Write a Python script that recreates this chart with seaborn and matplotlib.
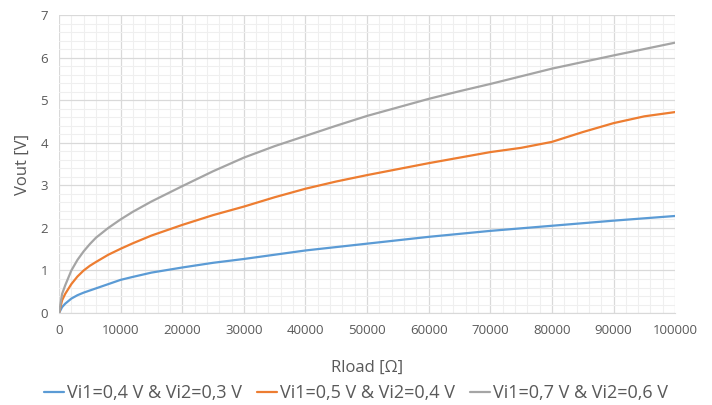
import numpy as np
import pandas as pd
import matplotlib
matplotlib.use("Agg")
import matplotlib.pyplot as plt
import seaborn as sns
from matplotlib.ticker import MultipleLocator
from matplotlib.lines import Line2D

x_blue = [0, 500, 1000, 2000, 3000, 4000, 5000, 6000, 8000, 10000, 12000, 15000, 20000,
          25000, 30000, 35000, 40000, 45000, 50000, 55000, 60000, 65000, 70000,
          80000, 90000, 100000]
y_blue = [0, 0.14, 0.22, 0.34, 0.42, 0.48, 0.53, 0.58, 0.68, 0.78, 0.85, 0.95, 1.07,
          1.18, 1.27, 1.37, 1.47, 1.55, 1.63, 1.71, 1.79, 1.86, 1.93,
          2.05, 2.17, 2.28]

x_orange = [0, 500, 1000, 2000, 3000, 4000, 5000, 6000, 8000, 10000, 12000, 15000, 20000,
            25000, 30000, 35000, 40000, 45000, 50000, 55000, 60000, 65000, 70000,
            75000, 80000, 85000, 90000, 95000, 100000]
y_orange = [0, 0.30, 0.45, 0.68, 0.86, 1.00, 1.11, 1.20, 1.37, 1.51, 1.64, 1.82, 2.07,
            2.30, 2.50, 2.72, 2.92, 3.09, 3.24, 3.38, 3.52, 3.65, 3.78,
            3.88, 4.02, 4.25, 4.46, 4.62, 4.72]

x_gray = [0, 500, 1000, 2000, 3000, 4000, 5000, 6000, 8000, 10000, 12000, 15000, 20000,
          25000, 30000, 35000, 40000, 45000, 50000, 55000, 60000, 65000, 70000,
          80000, 90000, 100000]
y_gray = [0, 0.45, 0.65, 1.00, 1.25, 1.45, 1.62, 1.77, 2.00, 2.20, 2.38, 2.62, 2.98,
          3.33, 3.65, 3.92, 4.16, 4.40, 4.63, 4.83, 5.03, 5.21, 5.38,
          5.74, 6.05, 6.35]

labels = ["Vi1=0,4 V & Vi2=0,3 V", "Vi1=0,5 V & Vi2=0,4 V", "Vi1=0,7 V & Vi2=0,6 V"]
colors = ["#5B9BD5", "#ED7D31", "#A5A5A5"]

frames = []
for xs, ys, lab in [(x_blue, y_blue, labels[0]), (x_orange, y_orange, labels[1]),
                    (x_gray, y_gray, labels[2])]:
    frames.append(pd.DataFrame({"Rload": xs, "Vout": ys, "series": lab}))
df = pd.concat(frames, ignore_index=True)

sns.set_style("white")
plt.rcParams["font.family"] = ["Open Sans", "DejaVu Sans"]

fig = plt.figure(figsize=(7.12, 4.05), dpi=100)
ax = fig.add_axes([0.0829, 0.227, 0.8653, 0.736])

sns.lineplot(data=df, x="Rload", y="Vout", hue="series", hue_order=labels,
             palette=colors, linewidth=1.6, ax=ax, legend=False, sort=True)

ax.set_xlim(0, 100000)
ax.set_ylim(0, 7)
ax.xaxis.set_major_locator(MultipleLocator(10000))
ax.xaxis.set_minor_locator(MultipleLocator(2000))
ax.yaxis.set_major_locator(MultipleLocator(1))
ax.yaxis.set_minor_locator(MultipleLocator(0.2))
ax.grid(which="major", color="#D9D9D9", linewidth=0.9)
ax.grid(which="minor", color="#EFEFEF", linewidth=0.8)
ax.set_axisbelow(True)
for s in ["top", "right", "left"]:
    ax.spines[s].set_visible(False)
ax.spines["bottom"].set_color("#D9D9D9")
ax.tick_params(axis="both", which="both", length=0, colors="#595959", labelsize=9.5, pad=8)
ax.set_xticks(np.arange(0, 100001, 10000))
ax.set_xticklabels([str(v) for v in range(0, 100001, 10000)])

ax.set_xlabel("Rload [Ω]", fontsize=12, color="#595959", labelpad=16)
ax.set_ylabel("Vout [V]", fontsize=12, color="#595959", labelpad=7)

handles = [Line2D([], [], color=c, linewidth=1.6) for c in colors]
fig.legend(handles, labels, loc="center", bbox_to_anchor=(0.5, 0.03), ncol=3,
           frameon=False, fontsize=13, handlelength=1.1, handletextpad=0.2,
           columnspacing=0.8, labelcolor="#595959", borderaxespad=0, borderpad=0)

fig.savefig("out.png", dpi=100)
